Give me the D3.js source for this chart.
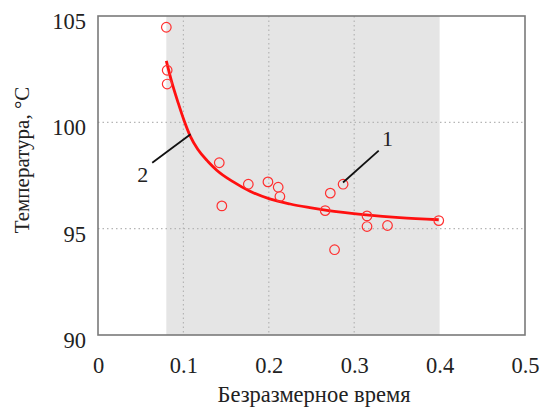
<!DOCTYPE html>
<html>
<head>
<meta charset="utf-8">
<script src="https://cdn.jsdelivr.net/npm/d3@7"></script>
<style>
  body { margin: 0; background: #fff; }
  text { font-family: "Liberation Serif", "Times New Roman", serif; fill: #222; }
</style>
</head>
<body>
<div id="chart"></div>
<script>
// measured points (open circles)
const pointsX = [0.080, 0.081, 0.081, 0.142, 0.145, 0.176, 0.199, 0.211, 0.213, 0.266, 0.272, 0.277, 0.287, 0.315, 0.315, 0.339, 0.399];
const pointsY = [104.47, 102.45, 101.8, 98.1, 96.07, 97.09, 97.2, 96.95, 96.51, 95.85, 96.67, 94.01, 97.09, 95.6, 95.1, 95.15, 95.38];

// fitted curve
const fitX = [0.080, 0.086, 0.094, 0.101, 0.108, 0.117, 0.129, 0.139, 0.158, 0.178, 0.201, 0.225, 0.248, 0.268, 0.314, 0.353, 0.399];
const fitY = [102.89, 101.95, 100.90, 100.06, 99.35, 98.72, 98.15, 97.75, 97.21, 96.76, 96.40, 96.16, 95.99, 95.86, 95.65, 95.52, 95.42];

const shadeRange = [0.08, 0.4];
const xTicks = [0, 0.1, 0.2, 0.3, 0.4, 0.5];
const yTicks = [90, 95, 100, 105];
const xGrid = [0.1, 0.2, 0.3];
const yGrid = [95, 100];

// curve labels: text, label position, leader line start/end
const labels = [
  { text: "1", at: [0.339, 99.26], from: [0.3287, 98.67], to: [0.2869, 97.17] },
  { text: "2", at: [0.0523, 97.56], from: [0.0635, 98.10], to: [0.1084, 99.44] }
];

const W = 543, H = 410;
const margin = { top: 16, right: 18, bottom: 75, left: 98 };
const width = W - margin.left - margin.right;
const height = H - margin.top - margin.bottom;

const svg = d3.select("#chart").append("svg")
  .attr("width", W).attr("height", H);

const g = svg.append("g")
  .attr("transform", `translate(${margin.left},${margin.top})`);

const x = d3.scaleLinear().domain([0, 0.5]).range([0, width]);
const y = d3.scaleLinear().domain([90, 105]).range([height, 0]);

// shaded window
g.append("rect")
  .attr("x", x(shadeRange[0]))
  .attr("y", 0)
  .attr("width", x(shadeRange[1]) - x(shadeRange[0]))
  .attr("height", height)
  .attr("fill", "#e5e5e5");

// dotted grid
g.selectAll(".vgrid").data(xGrid).enter().append("line")
  .attr("x1", d => x(d)).attr("x2", d => x(d))
  .attr("y1", 0).attr("y2", height)
  .attr("stroke", "#b5b5b5").attr("stroke-width", 1.2)
  .attr("stroke-dasharray", "1.5,3");

g.selectAll(".hgrid").data(yGrid).enter().append("line")
  .attr("x1", 0).attr("x2", width)
  .attr("y1", d => y(d)).attr("y2", d => y(d))
  .attr("stroke", "#b5b5b5").attr("stroke-width", 1.2)
  .attr("stroke-dasharray", "1.5,3");

// axes (labels only)
const xAxis = g.append("g")
  .attr("transform", `translate(0,${height})`)
  .call(d3.axisBottom(x).tickValues(xTicks).tickSize(0).tickPadding(22)
    .tickFormat(d => d === 0 ? "0" : d3.format(".1f")(d)));
xAxis.select(".domain").remove();
xAxis.selectAll("text").style("font-size", "22.5px")
  .style("font-family", '"Liberation Serif", serif').attr("fill", "#222");

const yAxis = g.append("g")
  .call(d3.axisLeft(y).tickValues(yTicks).tickSize(0).tickPadding(12));
yAxis.select(".domain").remove();
yAxis.selectAll("text").style("font-size", "22.5px")
  .style("font-family", '"Liberation Serif", serif').attr("fill", "#222")
  .attr("dy", "0.55em");

// frame
g.append("rect")
  .attr("x", 0).attr("y", 0)
  .attr("width", width).attr("height", height)
  .attr("fill", "none")
  .attr("stroke", "#7a7a7a")
  .attr("stroke-width", 1.6);

// fitted curve
const line = d3.line()
  .x(d => x(d[0]))
  .y(d => y(d[1]))
  .curve(d3.curveMonotoneX);

g.append("path")
  .datum(d3.zip(fitX, fitY))
  .attr("fill", "none")
  .attr("stroke", "#ff1010")
  .attr("stroke-width", 2.8)
  .attr("d", line);

// points
g.selectAll(".pt").data(d3.zip(pointsX, pointsY)).enter().append("circle")
  .attr("cx", d => x(d[0]))
  .attr("cy", d => y(d[1]))
  .attr("r", 4.8)
  .attr("fill", "none")
  .attr("stroke", "#ff3030")
  .attr("stroke-width", 1.2);

// labels with leaders
labels.forEach(l => {
  g.append("line")
    .attr("x1", x(l.from[0])).attr("y1", y(l.from[1]))
    .attr("x2", x(l.to[0])).attr("y2", y(l.to[1]))
    .attr("stroke", "#111").attr("stroke-width", 1.8);
  g.append("text")
    .attr("x", x(l.at[0])).attr("y", y(l.at[1]))
    .attr("text-anchor", "middle")
    .attr("dy", "0.35em")
    .style("font-size", "22px")
    .text(l.text);
});

// axis titles
svg.append("text")
  .attr("x", 314).attr("y", 402)
  .attr("text-anchor", "middle")
  .style("font-size", "22.5px")
  .text("Безразмерное время");

svg.append("text")
  .attr("transform", "translate(29,160) rotate(-90)")
  .attr("text-anchor", "middle")
  .style("font-size", "21px")
  .text("Температура, °C");
</script>
</body>
</html>
